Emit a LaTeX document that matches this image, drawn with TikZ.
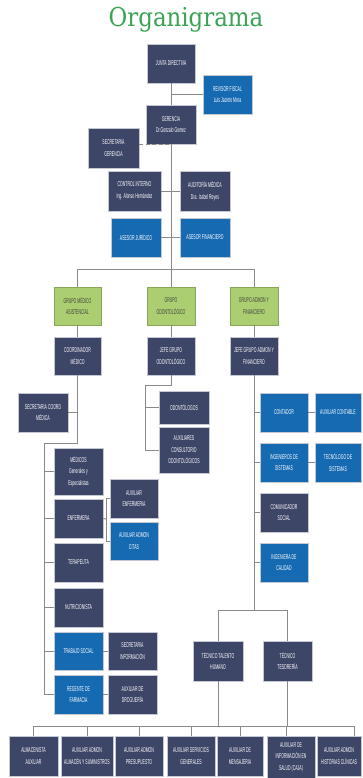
\documentclass[tikz,border=0pt]{standalone}
\usepackage{fontspec}
\newfontfamily\boxfnt[FakeStretch=0.5]{Liberation Sans}
\newfontfamily\titlefnt[FakeStretch=0.88]{DejaVu Serif}
\definecolor{darkbox}{RGB}{62,70,104}
\definecolor{bluebox}{RGB}{22,106,178}
\definecolor{greenbox}{RGB}{170,206,112}
\definecolor{boxedge}{RGB}{196,200,210}
\definecolor{linecol}{RGB}{138,138,138}
\definecolor{titlegreen}{RGB}{58,163,84}
\tikzset{
  orgbox/.style={rectangle, draw=boxedge, line width=0.8pt, align=center, inner sep=1pt,
    text=white, font={\boxfnt\fontsize{7pt}{11.5pt}\selectfont}},
  darkb/.style={orgbox, fill=darkbox},
  blueb/.style={orgbox, fill=bluebox},
  greenb/.style={orgbox, fill=greenbox, draw=greenbox!80!black, text=black!75},
  sz/.style 2 args={minimum width=#1pt, minimum height=#2pt},
  conn/.style={draw=linecol, line width=1pt},
}
\begin{document}
\begin{tikzpicture}[x=1pt,y=-1pt]
\fill[white] (0,0) rectangle (362,778);
\useasboundingbox (0,0) rectangle (362,778);
\node[anchor=base, text=titlegreen, font={\titlefnt\fontsize{26pt}{30pt}\selectfont}] (title) at (186,27) {Organigrama};
% top
\node[darkb, sz={48}{39}] (jd) at (171,63.5) {JUNTA DIRECTIVA};
\node[blueb, sz={49}{39}] (rf) at (227.5,94.5) {REVISOR FISCAL\\Luis Jacinto Mora};
\node[darkb, sz={50}{39}] (ger) at (171,124.5) {GERENCIA\\Dr.Gonzalo Gomez};
\node[darkb, sz={51}{40}] (sg) at (113.5,148) {SECRETARIA\\GERENCIA};
\node[darkb, sz={53}{40}] (ci) at (134.5,191) {CONTROL INTERNO\\Ing. Alonso Hernández};
\node[darkb, sz={50}{40}] (am) at (205,191) {AUDITORÍA MÉDICA\\Dra. Isabel Reyes};
\node[blueb, sz={50}{39}] (aj) at (136,237.5) {ASESOR JURÍDICO};
\node[blueb, sz={50}{39}] (af) at (205,237.5) {ASESOR FINANCIERO};
% groups
\node[greenb, sz={47}{38}] (gma) at (77.5,306) {GRUPO MÉDICO\\ASISTENCIAL};
\node[greenb, sz={48}{38}] (god) at (171,306) {GRUPO\\ODONTOLÓGICO};
\node[greenb, sz={48}{38}] (gaf) at (254,306) {GRUPO ADMON Y\\FINANCIERO};
\node[darkb, sz={47}{38}] (cm) at (77.5,356) {COORDINADOR\\MÉDICO};
\node[darkb, sz={48}{38}] (jgo) at (171,356) {JEFE GRUPO\\ODONTOLÓGICO};
\node[darkb, sz={48}{38}] (jga) at (254,356) {JEFE GRUPO ADMON Y\\FINANCIERO};
% medical
\node[darkb, sz={50}{39}] (scm) at (43,412.5) {SECRETARIA COORD\\MÉDICA};
\node[darkb, sz={49}{47}] (med) at (78.5,471.5) {MÉDICOS\\Generales y\\Especialistas};
\node[darkb, sz={49}{39}] (enf) at (78.5,518.5) {ENFERMERA};
\node[darkb, sz={48}{39}] (aenf) at (134,498.5) {AUXILIAR\\ENFERMERIA};
\node[blueb, sz={48}{38}] (acit) at (134,541) {AUXILIAR ADMON\\CITAS};
\node[darkb, sz={49}{39}] (ter) at (78.5,562.5) {TERAPEUTA};
\node[darkb, sz={49}{39}] (nut) at (78.5,607.5) {NUTRICIONISTA};
\node[blueb, sz={49}{38}] (ts) at (78.5,651) {TRABAJO SOCIAL};
\node[darkb, sz={49}{38}] (si) at (132.5,651) {SECRETARIA\\INFORMACIÓN};
\node[blueb, sz={49}{39}] (rg) at (78.5,694.5) {REGENTE DE\\FARMACIA};
\node[darkb, sz={49}{39}] (ad) at (132.5,694.5) {AUXILIAR DE\\DROGUERÍA};
% odonto
\node[darkb, sz={50}{33}] (odo) at (184,407.5) {ODONTÓLOGOS};
\node[darkb, sz={50}{46}] (aux) at (184,450) {AUXILIARES\\CONSULTORIO\\ODONTOLÓGICOS};
% admin
\node[blueb, sz={48}{39}] (cont) at (284,412.5) {CONTADOR};
\node[blueb, sz={46}{39}] (acon) at (338,412.5) {AUXILIAR CONTABLE};
\node[blueb, sz={48}{39}] (ings) at (284,462.5) {INGENIEROS DE\\SISTEMAS};
\node[blueb, sz={46}{39}] (tecs) at (338,462.5) {TECNÓLOGO DE\\SISTEMAS};
\node[darkb, sz={48}{39}] (com) at (284,512.5) {COMUNICADOR\\SOCIAL};
\node[blueb, sz={48}{39}] (cal) at (284,562.5) {INGENIERA DE\\CALIDAD};
\node[darkb, sz={50}{40}] (tth) at (218,661) {TÉCNICO TALENTO\\HUMANO};
\node[darkb, sz={49}{40}] (tte) at (287.5,661) {TÉCNICO\\TESORERÍA};
% bottom row
\node[darkb, sz={49}{40}] (b1) at (33.5,756) {ALMACENISTA\\AUXILIAR};
\node[darkb, sz={52}{40}] (b2) at (87,756) {AUXILIAR ADMON\\ALMACÉN Y SUMINISTROS};
\node[darkb, sz={48}{40}] (b3) at (139,756) {AUXILIAR ADMON\\PRESUPUESTO};
\node[darkb, sz={48}{40}] (b4) at (191,756) {AUXILIAR SERVICIOS\\GENERALES};
\node[darkb, sz={46}{40}] (b5) at (240,756) {AUXILIAR DE\\MENSAJERIA};
\node[darkb, sz={48}{42}] (b6) at (291,757) {AUXILIAR DE\\INFORMACIÓN EN\\SALUD (CAJA)};
\node[darkb, sz={44}{40}] (b7) at (339,756) {AUXILIAR ADMON\\HISTORIAS CLÍNICAS};
% coordinates
\coordinate (bus1) at (171,269);
\coordinate (lb) at (44,443);
\coordinate (eb) at (106,519);
\coordinate (ob) at (145,385);
\coordinate (tb) at (254,610);
\coordinate (bus2) at (0,726);
% connectors
\draw[conn] (jd.south) -- (ger.north);
\draw[conn] (jd.south |- rf.west) -- (rf.west);
\draw[conn, dashed, dash pattern=on 4pt off 2.5pt] ([yshift=3pt]sg.east) -- ([yshift=3pt]sg.east -| ger.south);
\draw[conn] (ger.south) -- (bus1);
\draw[conn] (ci.east) -- (am.west);
\draw[conn] (aj.east) -- (af.west);
\draw[conn] (gma.north) -- (gma.north |- bus1) -- (gaf.north |- bus1) -- (gaf.north);
\draw[conn] (bus1) -- (god.north);
\draw[conn] (gma.south) -- (cm.north);
\draw[conn] (god.south) -- (jgo.north);
\draw[conn] (gaf.south) -- (jga.north);
% medical tree
\draw[conn] (cm.south) -- (cm.south |- lb) -- (lb) -- (lb |- rg.west) -- (rg.west);
\draw[conn] (scm.east) -- (scm.east -| cm.south);
\draw[conn] (lb |- med.west) -- (med.west);
\draw[conn] (lb |- enf.west) -- (enf.west);
\draw[conn] (lb |- ter.west) -- (ter.west);
\draw[conn] (lb |- nut.west) -- (nut.west);
\draw[conn] (lb |- ts.west) -- (ts.west);
\draw[conn] (enf.east) -- (eb);
\draw[conn] (aenf.west) -- (eb |- aenf.west) -- (eb |- acit.west) -- (acit.west);
\draw[conn] (ts.east) -- (si.west);
\draw[conn] (rg.east) -- (ad.west);
% odonto tree
\draw[conn] (jgo.south) -- (jgo.south |- ob) -- (ob) -- (ob |- aux.west) -- (aux.west);
\draw[conn] (ob |- odo.west) -- (odo.west);
% admin tree
\draw[conn] (jga.south) -- (tb);
\draw[conn] (tth.north) -- (tth.north |- tb) -- (tte.north |- tb) -- (tte.north);
\draw[conn] (jga.south |- cont.west) -- (cont.west);
\draw[conn] (cont.east) -- (acon.west);
\draw[conn] (jga.south |- ings.west) -- (ings.west);
\draw[conn] (ings.east) -- (tecs.west);
\draw[conn] (jga.south |- com.west) -- (com.west);
\draw[conn] (jga.south |- cal.west) -- (cal.west);
% bottom bus
\draw[conn] (tth.south) -- (tth.south |- bus2);
\draw[conn] (tte.south) -- (tte.south |- bus2);
\draw[conn] (b1.north) -- (b1.north |- bus2) -- ([xshift=15pt]b7.north |- bus2) -- ([xshift=15pt]b7.north);
\draw[conn] (b2.north |- bus2) -- (b2.north);
\draw[conn] (b3.north |- bus2) -- (b3.north);
\draw[conn] (b4.north |- bus2) -- (b4.north);
\draw[conn] (b5.north |- bus2) -- (b5.north);
\draw[conn] ([xshift=-5pt]b6.north |- bus2) -- ([xshift=-5pt]b6.north);
\end{tikzpicture}
\end{document}
